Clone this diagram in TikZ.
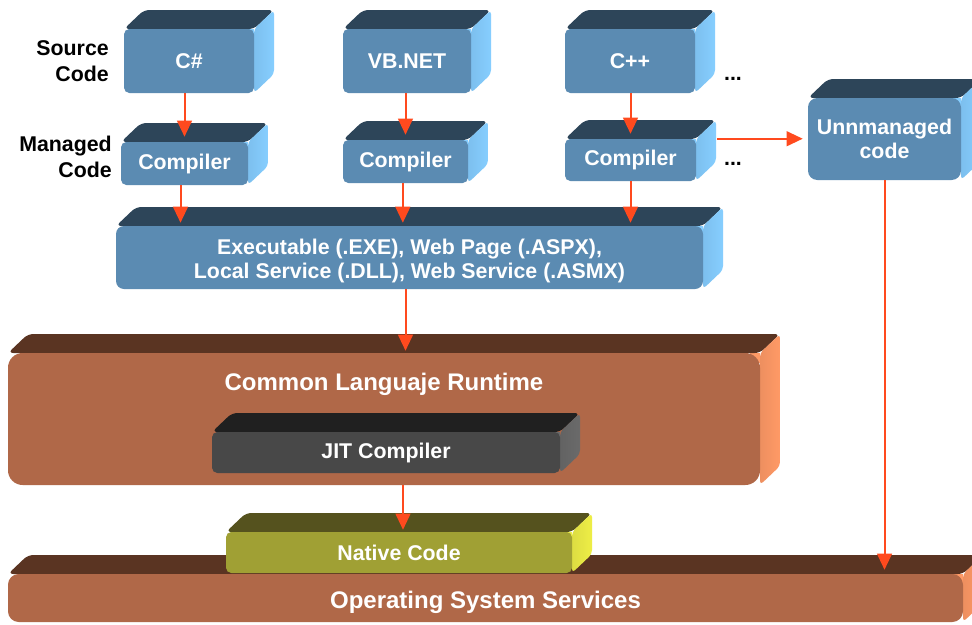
\documentclass[tikz,border=0pt]{standalone}
\usepackage{fontspec}
\setmainfont{Liberation Sans}
\usetikzlibrary{arrows.meta}
\definecolor{blueF}{HTML}{5B8BB2}
\definecolor{blueT}{HTML}{2D4559}
\definecolor{blueS}{HTML}{86CEFF}
\definecolor{brownF}{HTML}{B06848}
\definecolor{brownT}{HTML}{5A3422}
\definecolor{brownS}{HTML}{FF9A66}
\definecolor{jitF}{HTML}{484848}
\definecolor{jitT}{HTML}{202020}
\definecolor{jitS}{HTML}{6A6A6A}
\definecolor{natF}{HTML}{A0A034}
\definecolor{natT}{HTML}{55521E}
\definecolor{natS}{HTML}{EEEE46}
\definecolor{arrowc}{HTML}{FF4A1E}
\tikzset{
  cubefront/.style={draw=none, inner sep=0pt, text=white, align=center,
    font=\bfseries\fontsize{16}{18}\selectfont},
  bigtext/.style={inner sep=0pt, text=white, font=\bfseries\fontsize{18}{20}\selectfont},
  sidelbl/.style={inner sep=0pt, anchor=east, align=right,
    font=\bfseries\fontsize{16}{19}\selectfont},
  dotslbl/.style={inner sep=0pt, font=\bfseries\fontsize{16}{18}\selectfont},
  arr/.style={draw=arrowc, line width=1.5pt, -{Triangle[width=11pt,length=12pt]}}
}
\newcommand\lowered[2]{\raisebox{-#1}[\height][\depth]{#2}}
% #1 radius, #2 name, #3 width, #4 height, #5 colour family, #6 centre, #7 text
\newcommand\cubebox[7][4pt]{%
  \path (#6) ++({-#3/2},{-#4/2}) coordinate (#2-nw)
        (#6) ++({#3/2},{-#4/2}) coordinate (#2-ne)
        (#6) ++({#3/2},{#4/2}) coordinate (#2-se);
  \fill[#5S] (#2-ne) rectangle ++(-10,10);
  \fill[#5T, rounded corners=4pt] (#2-nw) -- ++(20,-19) -- ([shift={(20,-19)}]#2-ne) -- (#2-ne) -- cycle;
  \shade[left color=#5S!78!#5F, right color=#5S, rounded corners=3pt]
        (#2-ne) -- ++(20,-19) -- ([shift={(20,-19)}]#2-se) -- (#2-se) -- cycle;
  \node[cubefront, rounded corners=#1, fill=#5F, minimum width={#3*0.75pt},
        minimum height={#4*0.75pt}] (#2) at (#6) {#7};
}
\begin{document}
\begin{tikzpicture}[x=0.75pt,y=-0.75pt]
\clip (0,0) rectangle (972,625);
\fill[white] (0,0) rectangle (972,625);

% source boxes
\cubebox{cs}{130}{64}{blue}{189,61}{C\#}
\cubebox{vb}{128}{64}{blue}{407,61}{VB.NET}
\cubebox{cpp}{130}{64}{blue}{630,61}{C++}
% compilers
\cubebox{cp1}{127}{43}{blue}{184.5,163.5}{Compiler}
\cubebox{cp2}{125}{43}{blue}{405.5,161.5}{Compiler}
\cubebox{cp3}{131}{42}{blue}{630.5,160}{Compiler}
% unmanaged
\cubebox[7pt]{un}{153}{82}{blue}{884.5,139}{Unnmanaged\\code}
% executable
\cubebox[6pt]{exe}{587}{63}{blue}{409.5,257.5}{\lowered{2.5pt}{Executable (.EXE), Web Page (.ASPX),}\\\lowered{2.5pt}{Local Service (.DLL), Web Service (.ASMX)}}
% CLR
\cubebox[11pt]{clr}{752}{132}{brown}{384,419}{}
\node[bigtext] (clrt) at (384,384.5) {Common Languaje Runtime};
\cubebox{jit}{348}{41}{jit}{386,452.5}{JIT Compiler}
% native + OS
\cubebox[8pt]{os}{955}{48}{brown}{485.5,598}{\fontsize{18}{20}\selectfont\lowered{3.5pt}{Operating System Services}}
\cubebox{nat}{346}{41}{nat}{399,552.5}{Native Code}

% side labels
\node[sidelbl] (src) at (109,61) {Source\\Code};
\node[sidelbl] (man) at (112,157) {Managed\\Code};
\node[dotslbl] (d1) at (733,79) {...};
\node[dotslbl] (d2) at (733,164) {...};

% arrows
\draw[arr] (cp1.north |- cs.south) -- ([yshift=3.75pt]cp1.north);
\draw[arr] (cp2.north |- vb.south) -- ([yshift=3.75pt]cp2.north);
\draw[arr] (cp3.north |- cpp.south) -- ([yshift=3.75pt]cp3.north);
\draw[arr] ([xshift=-3pt]cp1.south) -- ([xshift=-3pt,yshift=2.25pt]cp1.south |- exe.north);
\draw[arr] ([xshift=-2pt]cp2.south) -- ([xshift=-2pt,yshift=2.25pt]cp2.south |- exe.north);
\draw[arr] (cp3.south) -- ([yshift=2.25pt]cp3.south |- exe.north);
\draw[arr] (cp2.south |- exe.south) -- ([yshift=1.5pt]cp2.south |- clr.north);
\draw[arr] ([xshift=3pt]nat.north |- clr.south) -- ([xshift=3pt,yshift=1.5pt]nat.north);
\draw[arr] ([xshift=15.75pt]cp3.north east) -- ([xshift=-3.75pt]un.west |- cp3.north east);
\draw[arr] (un.south) -- ([yshift=3pt]un.south |- os.north);
\end{tikzpicture}
\end{document}
